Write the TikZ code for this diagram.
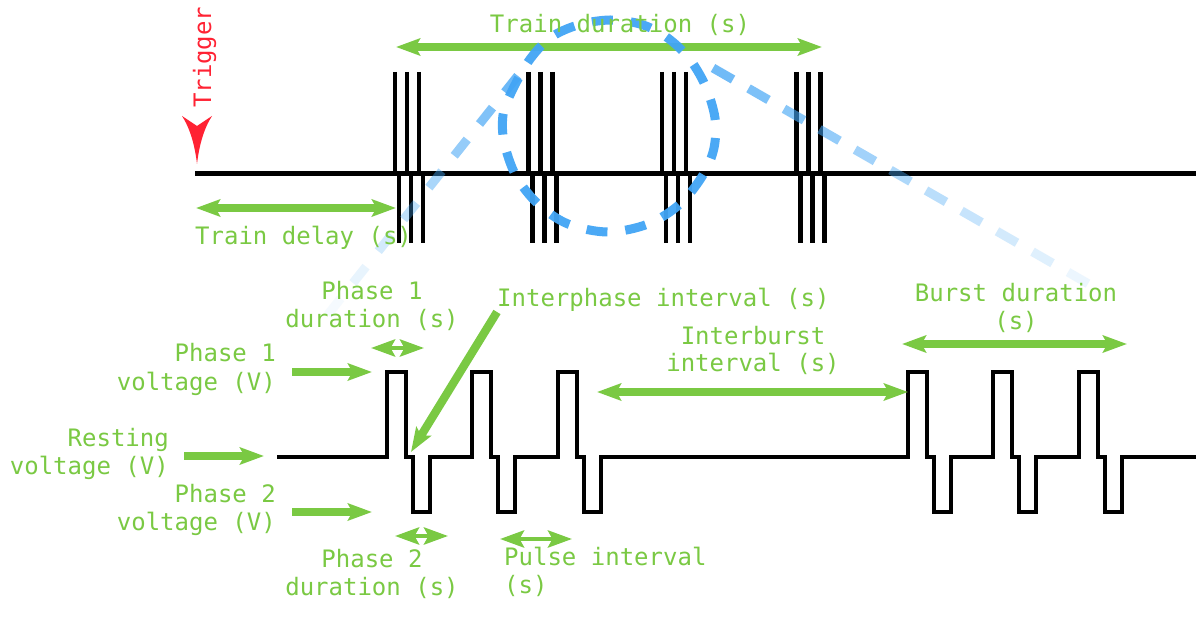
\documentclass[tikz,border=0pt]{standalone}
\usepackage{fontspec}
\setmainfont{DejaVu Sans Mono}
\usetikzlibrary{arrows.meta,calc}
\definecolor{lgreen}{RGB}{122,201,67}
\definecolor{lblue}{RGB}{66,165,245}
\definecolor{tred}{RGB}{255,34,51}
\begin{document}
\begin{tikzpicture}[x=1pt,y=-1pt,
  lbl/.style={text=lgreen, inner sep=0pt, font=\fontsize{24}{28}\selectfont},
  gtip/.tip={Stealth[length=24pt,width=17pt,inset=4.5pt]},
  dbl/.style={draw=lgreen, line width=7.5pt, {gtip}-{gtip}},
  dblsmall/.style={draw=lgreen, line width=4.5pt, {gtip}-{gtip}},
  sgl/.style={draw=lgreen, line width=8.3pt, -{gtip}},
  trace/.style={draw=black, line width=4.4pt},
  spike/.style={draw=black, line width=4.4pt},
  wave/.style={draw=black, line width=4.4pt, line join=miter},
  bluedash/.style={draw=lblue, line width=9pt},
  loopdash/.style={draw=lblue, line width=9pt, dash pattern=on 21pt off 18pt, draw opacity=0.95}
]
\useasboundingbox (0,0) rectangle (1200,620);
\fill[white] (0,0) rectangle (1200,620);

% ---- top: spike trains ----
\coordinate (base0) at (195,173.5);
\coordinate (base1) at (1196,173.5);
\draw[trace] (base0) -- (base1);
\foreach \b in {395,528.5,662,796.5}{
  \foreach \i in {0,1,2}{
    \draw[spike] ({\b+12*\i},72) -- ({\b+12*\i},173.5);
    \draw[spike] ({\b+4+12*\i},173.5) -- ({\b+4+12*\i},243);
  }
}

% trigger arrowhead
\fill[tred] (197,164) .. controls (199,146) and (204,128) .. (212,116)
  -- (197,126) -- (182,116) .. controls (190,128) and (195,146) .. (197,164) -- cycle;

% ---- bottom: biphasic pulses ----
\coordinate (w0) at (277,457);
\coordinate (w1) at (1196,457);
\draw[wave] (w0) foreach \x in {387,472,558,908,993,1079}{
  -- (\x,457) -- ++(0,-85) -- ++(19,0) -- ++(0,85) -- ++(7,0) -- ++(0,55) -- ++(17,0) -- ++(0,-55)
} -- (w1);

% ---- green arrows ----
\coordinate (tdA) at (396,47);  \coordinate (tdB) at (822,47);
\coordinate (tlA) at (196,208); \coordinate (tlB) at (396,208);
\coordinate (p1dA) at (371,348); \coordinate (p1dB) at (424,348);
\coordinate (p1vA) at (292,372); \coordinate (p1vB) at (372,372);
\coordinate (rvA) at (184,456);  \coordinate (rvB) at (264,456);
\coordinate (p2vA) at (292,512); \coordinate (p2vB) at (372,512);
\coordinate (p2dA) at (395,536); \coordinate (p2dB) at (448,536);
\coordinate (piA) at (500,539);  \coordinate (piB) at (572,539);
\coordinate (ipA) at (497,312);  \coordinate (ipB) at (411,452);
\coordinate (ibA) at (597,392);  \coordinate (ibB) at (908,392);
\coordinate (bdA) at (902,344);  \coordinate (bdB) at (1127,344);

\draw[dbl] (tdA) -- (tdB);
\draw[dbl] (tlA) -- (tlB);
\draw[dblsmall] (p1dA) -- (p1dB);
\draw[sgl] (p1vA) -- (p1vB);
\draw[sgl] (rvA) -- (rvB);
\draw[sgl] (p2vA) -- (p2vB);
\draw[dblsmall] (p2dA) -- (p2dB);
\draw[dblsmall] (piA) -- (piB);
\draw[sgl] (ipA) -- (ipB);
\draw[dbl] (ibA) -- (ibB);
\draw[dbl] (bdA) -- (bdB);

% ---- blue dashed loop ----
\foreach \k in {-1,...,6}{
  \pgfmathsetmacro\xs{353+25.3*\k}
  \pgfmathsetmacro\xe{\xs+13}
  \pgfmathsetmacro\op{max(0.05,0.12+0.11*\k)}
  \draw[bluedash, draw opacity=\op] (\xs,{283-1.257*(\xs-353)}) -- (\xe,{283-1.257*(\xe-353)});
}
\draw[loopdash] plot[smooth cycle, tension=0.55] coordinates {
  (510,95) (528,62) (550,38) (578,25) (610,20) (640,24) (665,36) (688,57)
  (705,85) (715,118) (714,148) (703,175) (680,204) (648,224) (608,232)
  (568,224) (538,204) (516,176) (504,142) (503,115)};
\foreach \k in {0,...,10}{
  \pgfmathsetmacro\xs{713+35.5*\k}
  \pgfmathsetmacro\xe{\xs+20}
  \pgfmathsetmacro\op{0.75-0.065*\k}
  \draw[bluedash, draw opacity=\op] (\xs,{68+0.575*(\xs-713)}) -- (\xe,{68+0.575*(\xe-713)});
}

% ---- labels ----
\node[lbl, rotate=90, anchor=base west, text=tred] (trig) at (211,108) {Trigger};
\node[lbl, anchor=base] (tdur) at (620,33) {Train duration (s)};
\node[lbl, anchor=base west] (tdel) at (195,245) {Train delay (s)};
\node[lbl, anchor=base] (p1d1) at (372,300) {Phase 1};
\node[lbl, anchor=base] (p1d2) at (372,328) {duration (s)};
\node[lbl, anchor=base west] (ipi) at (497,307) {Interphase interval (s)};
\node[lbl, anchor=base] (bd1) at (1016,302) {Burst duration};
\node[lbl, anchor=base] (bd2) at (1016,330) {(s)};
\node[lbl, anchor=base] (ib1) at (753,345) {Interburst};
\node[lbl, anchor=base] (ib2) at (753,372) {interval (s)};
\node[lbl, anchor=base east] (p1v1) at (276,362) {Phase 1};
\node[lbl, anchor=base east] (p1v2) at (276,390) {voltage (V)};
\node[lbl, anchor=base east] (rv1) at (169,446) {Resting};
\node[lbl, anchor=base east] (rv2) at (169,474) {voltage (V)};
\node[lbl, anchor=base east] (p2v1) at (276,502) {Phase 2};
\node[lbl, anchor=base east] (p2v2) at (276,530) {voltage (V)};
\node[lbl, anchor=base] (p2d1) at (372,567) {Phase 2};
\node[lbl, anchor=base] (p2d2) at (372,595) {duration (s)};
\node[lbl, anchor=base west] (pi1) at (504,565) {Pulse interval};
\node[lbl, anchor=base west] (pi2) at (504,593) {(s)};
\end{tikzpicture}
\end{document}
